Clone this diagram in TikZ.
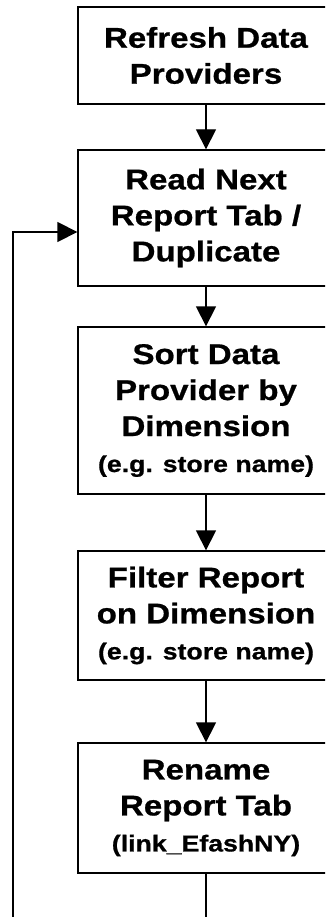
\documentclass[tikz,border=0pt]{standalone}
\usepackage{fontspec}
\setmainfont{Liberation Sans}[FakeStretch=1.16,BoldFeatures={FakeBold=0.8}]
\usepackage{tikz}
\usetikzlibrary{calc,arrows.meta,positioning}
\tikzset{stepbox/.style={draw,line width=1.3pt,minimum width=256pt,inner sep=0pt,align=center,font=\bfseries\fontsize{28.5}{36}\selectfont},
flow/.style={-{Triangle[length=20pt,width=20pt]},line width=1.3pt}}
\newcommand{\smallnote}[1]{{\fontsize{23}{28}\selectfont #1}}

\begin{document}
\begin{tikzpicture}[x=1pt,y=1pt]

\useasboundingbox (0,0) rectangle (325,-917);
\clip (0,0) rectangle (325,-917);

% Nodes
\node[stepbox,minimum height=97pt] (refresh) at (206,-55.5) {Refresh Data\\Providers};
\node[stepbox,minimum height=136pt] (read-tab) at (206,-218) {Read Next\\Report Tab /\\Duplicate};
\node[stepbox,minimum height=167pt] (sort-dp) at (206,-410.5) {Sort Data\\Provider by\\Dimension\\\smallnote{(e.g. store name)}};
\node[stepbox,minimum height=129pt] (filter-rep) at (206,-615.5) {Filter Report\\on Dimension\\\smallnote{(e.g. store name)}};
\node[stepbox,minimum height=130pt] (rename-tab) at (206,-808) {Rename\\Report Tab\\\smallnote{(link\_EfashNY)}};

% Loop ends (below the visible part)
\coordinate (loop-out) at (206,-940);
\coordinate (loop-back) at (13,-940);

% The flow
\draw[flow] (refresh) -- (read-tab);
\draw[flow] (read-tab) -- (sort-dp);
\draw[flow] (sort-dp) -- (filter-rep);
\draw[flow] (filter-rep) -- (rename-tab);
\draw[line width=1.3pt] (rename-tab) -- (loop-out);

% Back to the next tab
\draw[flow] (loop-back) |- ([yshift=-14pt]read-tab.west);

\end{tikzpicture}
\end{document}
